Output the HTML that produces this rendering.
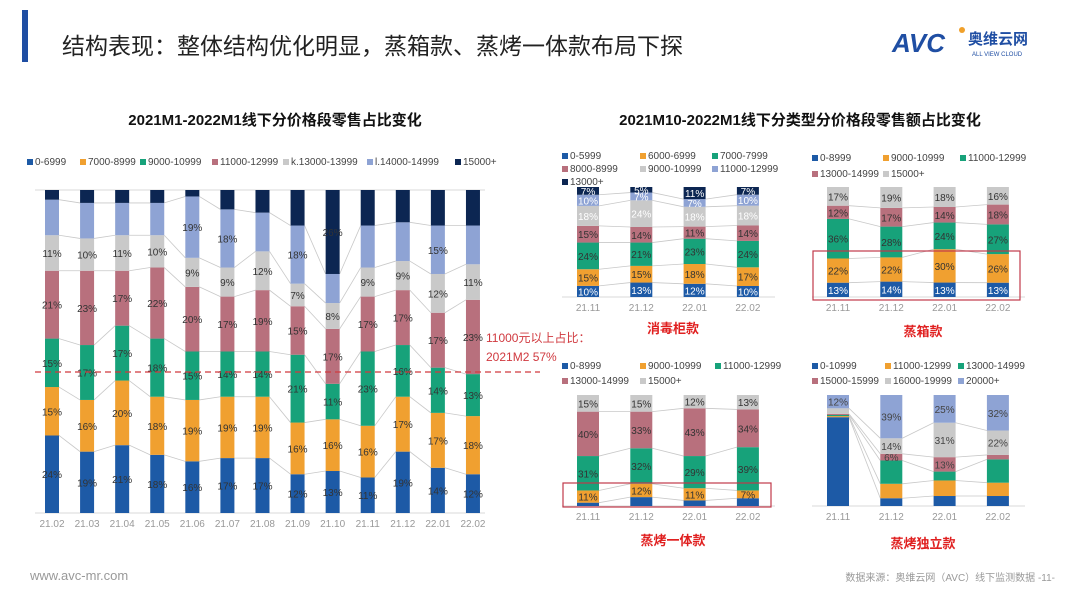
<!DOCTYPE html>
<html><head><meta charset="utf-8">
<style>
body{margin:0;width:1080px;height:608px;background:#fff;overflow:hidden;font-family:"Liberation Sans","Noto Sans CJK SC",sans-serif;}
svg{position:absolute;left:0;top:0}
</style></head>
<body>
<svg id="s" width="1080" height="608" viewBox="0 0 1080 608" xmlns="http://www.w3.org/2000/svg">
  <rect x="22" y="10" width="6" height="52" fill="#1f4ea3"/>
  <text x="62" y="54" font-size="23" fill="#222" font-family="Liberation Sans, Noto Sans CJK SC, sans-serif">结构表现：整体结构优化明显，蒸箱款、蒸烤一体款布局下探</text>
  <g>
    <text x="892" y="52" font-size="26" font-weight="bold" font-style="italic" fill="#1f4ea3" font-family="Liberation Sans, sans-serif">AVC</text>
    <circle cx="962" cy="30" r="3" fill="#f0a02a"/>
    <text x="968" y="44" font-size="15" font-weight="bold" fill="#1f4ea3" font-family="Liberation Sans, Noto Sans CJK SC, sans-serif">奥维云网</text>
    <text x="972" y="56" font-size="6" fill="#1f4ea3" font-family="Liberation Sans, sans-serif">ALL VIEW CLOUD</text>
  </g>
  <text x="275" y="125" text-anchor="middle" font-size="15" font-weight="bold" fill="#111" font-family="Liberation Sans, Noto Sans CJK SC, sans-serif">2021M1-2022M1线下分价格段零售占比变化</text>
  <text x="800" y="125" text-anchor="middle" font-size="15" font-weight="bold" fill="#111" font-family="Liberation Sans, Noto Sans CJK SC, sans-serif">2021M10-2022M1线下分类型分价格段零售额占比变化</text>
  <text x="30" y="580" font-size="13" fill="#999">www.avc-mr.com</text>
  <text x="1055" y="581" text-anchor="end" font-size="10" fill="#999" font-family="Liberation Sans, Noto Sans CJK SC, sans-serif">数据来源：奥维云网（AVC）线下监测数据   -11-</text>
  <g id="charts"></g>
</svg>
<script>
// ---------- main chart data ----------
const mainCats = ['21.02','21.03','21.04','21.05','21.06','21.07','21.08','21.09','21.10','21.11','21.12','22.01','22.02'];
const mainSeries = ['0-6999','7000-8999','9000-10999','11000-12999','k.13000-13999','l.14000-14999','15000+'];
const mainS0 = [24,19,21,18,16,17,17,12,13,11,19,14,12];
const mainS1 = [15,16,20,18,19,19,19,16,16,16,17,17,18];
const mainS2 = [15,17,17,18,15,14,14,21,11,23,16,14,13];
const mainS3 = [21,23,17,22,20,17,19,15,17,17,17,17,23];
const mainS4 = [11,10,11,10,9,9,12,7,8,9,9,12,11];
const mainS5 = [11,11,10,10,19,18,12,18,9,13,12,15,12];
const mainS6 = [3,4,4,4,2,6,7,11,26,11,10,11,11];

// ---------- small panels data ----------
const smallCats = ['21.11','21.12','22.01','22.02'];
const aSeries = ['0-5999','6000-6999','7000-7999','8000-8999','9000-10999','11000-12999','13000+'];
const aS0=[10,13,12,10], aS1=[15,15,18,17], aS2=[24,21,23,24], aS3=[15,14,11,14], aS4=[18,24,18,18], aS5=[10,7,7,10], aS6=[7,5,11,7];
const bSeries = ['0-8999','9000-10999','11000-12999','13000-14999','15000+'];
const bS0=[13,14,13,13], bS1=[22,22,30,26], bS2=[36,28,24,27], bS3=[12,17,14,18], bS4=[17,19,18,16];
const cSeries = ['0-8999','9000-10999','11000-12999','13000-14999','15000+'];
const cS0=[3,8,5,7], cS1=[11,12,11,7], cS2=[31,32,29,39], cS3=[40,33,43,34], cS4=[15,15,12,13];
const dSeries = ['0-10999','11000-12999','13000-14999','15000-15999','16000-19999','20000+'];
const dS0=[80,7,9,9], dS1=[1,13,14,12], dS2=[1,21,8,21], dS3=[1,6,13,4], dS4=[5,14,31,22], dS5=[12,39,25,32];

const NS='http://www.w3.org/2000/svg';
const root=document.getElementById('charts');
function el(tag,attrs,parent){const e=document.createElementNS(NS,tag);for(const k in attrs)e.setAttribute(k,attrs[k]);(parent||root).appendChild(e);return e;}

function drawStack(cfg){
  const g=el('g',{});
  
  
  const n=cfg.cats.length;
  const yScale=v=>cfg.bottom-(v/100)*(cfg.bottom-cfg.top);
  const xCenter=i=>cfg.x0+i*cfg.step;
  const bl=el('line',{x1:cfg.axisL,x2:cfg.axisR,y1:cfg.bottom,y2:cfg.bottom,stroke:'#d9d9d9','stroke-width':1},g);
  
  
  if(cfg.topLine){
    const tl=el('line',{x1:cfg.axisL,x2:cfg.axisR,y1:cfg.top,y2:cfg.top,stroke:'#d9d9d9','stroke-width':1},g);
    
    
  }
  // cumulative
  const cum=[];
  for(let i=0;i<n;i++){
    let tot=0;cfg.series.forEach(s=>tot+=s[i]);
    let c=0;const arr=[0];
    cfg.series.forEach(s=>{c+=s[i]/tot*100;arr.push(c);});
    cum.push(arr);
  }
  // connector lines
  for(let i=0;i<n-1;i++){
    for(let k=1;k<cfg.series.length;k++){
      const ln=el('line',{x1:xCenter(i)+cfg.bw/2,y1:yScale(cum[i][k]),x2:xCenter(i+1)-cfg.bw/2,y2:yScale(cum[i+1][k]),stroke:'#c8c8c8','stroke-width':0.8},g);
      
      
    }
  }
  for(let i=0;i<n;i++){
    cfg.series.forEach((s,k)=>{
      const y1=yScale(cum[i][k+1]), y0=yScale(cum[i][k]);
      const r=el('rect',{x:xCenter(i)-cfg.bw/2,y:y1,width:cfg.bw,height:Math.max(0,y0-y1),fill:cfg.colors[k]},g);
      
      
      if(cfg.showLabel(k,s[i])){
        const t=el('text',{x:xCenter(i),y:(y0+y1)/2+4,'text-anchor':'middle','font-size':cfg.fs,fill:cfg.labelColor(k)},g);
        t.textContent=s[i]+'%';
        
        
      }
    });
    const xl=el('text',{x:xCenter(i),y:cfg.bottom+cfg.xlOff,'text-anchor':'middle','font-size':10,fill:'#999'},g);
    xl.textContent=cfg.cats[i];
    
    
  }
  // legend
  cfg.names.forEach((nm,k)=>{
    const p=cfg.legendPos[k];
    const r=el('rect',{x:p[0],y:p[1]-6,width:6,height:6,fill:cfg.colors[k]},g);
    
    
    const t=el('text',{x:p[0]+8,y:p[1],'font-size':cfg.legendFs,fill:'#444'},g);
    t.textContent=nm;
    
    
  });
  return g;
}

const BLUE='#1d5aa6',ORG='#f0a030',GRN='#17a27a',PINK='#b8707d',GRAY='#c9c9c9',LB='#8ea3d4',NAVY='#0c2652';

// main chart
const mainLegendX=[27,80,140,212,283,367,455];
drawStack({name:'main-price-chart',cats:mainCats,series:[mainS0,mainS1,mainS2,mainS3,mainS4,mainS5,mainS6],names:mainSeries,
  colors:[BLUE,ORG,GRN,PINK,GRAY,LB,NAVY],x0:52,step:35.08,bw:14,top:190,bottom:513,axisL:35,axisR:485,topLine:true,xlOff:14,fs:10,
  showLabel:(k,v)=>k<=4||v>=15,labelColor:k=>'#333',legendPos:mainLegendX.map(x=>[x,165]),legendFs:10});

// threshold line
const dl=el('line',{x1:35,x2:540,y1:372,y2:372,stroke:'#d0393f','stroke-width':1.2,'stroke-dasharray':'6,4'});


const a1=el('text',{x:486,y:342,'font-size':12,fill:'#d0393f','font-family':'Liberation Sans, Noto Sans CJK SC, sans-serif'});
a1.textContent='11000元以上占比：';


const a2=el('text',{x:486,y:361,'font-size':12,fill:'#d0393f'});
a2.textContent='2021M2  57%';



const white=k=>k===0?'#fff':'#333';
// panel A
drawStack({name:'sterilizer-chart',cats:smallCats,series:[aS0,aS1,aS2,aS3,aS4,aS5,aS6],names:aSeries,
  colors:[BLUE,ORG,GRN,PINK,GRAY,LB,NAVY],x0:588,step:53.3,bw:22,top:187,bottom:297,axisL:562,axisR:775,xlOff:14,fs:10,
  showLabel:()=>true,labelColor:k=>(k===0||k===4||k===5||k===6)?'#fff':'#333',
  legendPos:[[562,159],[640,159],[712,159],[562,172],[640,172],[712,172],[562,185]],legendFs:10});
// panel B
drawStack({name:'steam-oven-chart',cats:smallCats,series:[bS0,bS1,bS2,bS3,bS4],names:bSeries,
  colors:[BLUE,ORG,GRN,PINK,GRAY],x0:838,step:53.3,bw:22,top:187,bottom:297,axisL:812,axisR:1025,xlOff:14,fs:10,
  showLabel:()=>true,labelColor:white,legendPos:[[812,161],[883,161],[960,161],[812,177],[883,177]],legendFs:10});
// panel C
drawStack({name:'steam-bake-combo-chart',cats:smallCats,series:[cS0,cS1,cS2,cS3,cS4],names:cSeries,
  colors:[BLUE,ORG,GRN,PINK,GRAY],x0:588,step:53.3,bw:22,top:395,bottom:506,axisL:562,axisR:775,xlOff:14,fs:10,
  showLabel:(k,v)=>k>0&&v>=5,labelColor:k=>'#333',legendPos:[[562,369],[640,369],[715,369],[562,384],[640,384]],legendFs:10});
// panel D
drawStack({name:'steam-bake-standalone-chart',cats:smallCats,series:[dS0,dS1,dS2,dS3,dS4,dS5],names:dSeries,
  colors:[BLUE,ORG,GRN,PINK,GRAY,LB],x0:838,step:53.3,bw:22,top:395,bottom:506,axisL:812,axisR:1025,xlOff:14,fs:10,
  showLabel:(k,v)=>(k>=3&&v>=6),labelColor:k=>'#444',legendPos:[[812,369],[885,369],[958,369],[812,384],[885,384],[958,384]],legendFs:10});

// highlight boxes
[[813,251,207,49,'steam-oven-highlight'],[563,483,208,24,'combo-highlight']].forEach(b=>{
  const r=el('rect',{x:b[0],y:b[1],width:b[2],height:b[3],fill:'none',stroke:'#c0394a','stroke-width':1.2});
  
  
});
// panel captions
[[673,333,'消毒柜款','sterilizer-caption'],[923,336,'蒸箱款','steam-oven-caption'],[673,545,'蒸烤一体款','combo-caption'],[923,548,'蒸烤独立款','standalone-caption']].forEach(c=>{
  const t=el('text',{x:c[0],y:c[1],'text-anchor':'middle','font-size':13,'font-weight':'bold',fill:'#e02020','font-family':'Liberation Sans, Noto Sans CJK SC, sans-serif'});
  t.textContent=c[2];
  
  
});
</script>
</body></html>
